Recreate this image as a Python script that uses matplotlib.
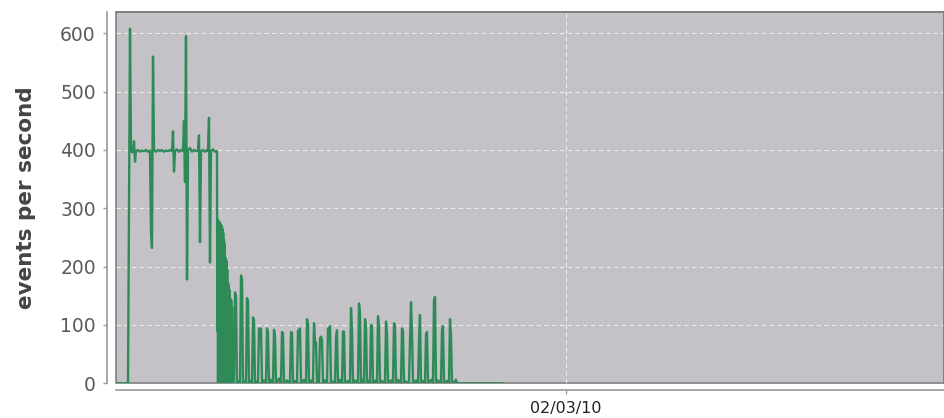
import matplotlib
matplotlib.use("Agg")
import matplotlib.pyplot as plt

# time in minutes relative to midnight 02/03/10; events per second
plateau_minutes = [
    -450, -438, -436, -435, -434, -433, -432, -431, -430, -428, -426, -424, -422, -420, -418,
    -416, -415, -414, -413, -412, -410, -408, -406, -404, -402, -400, -398, -396, -394, -393,
    -392, -391, -389, -387, -385, -383, -382, -381, -380, -379, -378, -376, -374, -372, -370,
    -368, -367, -366, -365, -363, -361, -359, -358, -357, -356, -355, -353, -351, -349,
]
plateau_values = [
    0, 0, 608, 400, 396, 398, 415, 380, 398, 400, 397, 399, 398, 400, 397,
    399, 258, 232, 560, 400, 397, 400, 398, 400, 397, 399, 398, 400, 398, 432,
    363, 398, 401, 397, 400, 398, 450, 345, 595, 178, 400, 403, 397, 400, 398,
    399, 425, 242, 398, 400, 397, 400, 398, 455, 207, 398, 401, 397, 398,
]

dropoff_minutes = [
    -348.7, -348.4,
    -348.0, -347.6, -347.2, -346.8, -346.4, -346.0, -345.6, -345.2, -344.8, -344.4,
    -344.0, -343.6, -343.2, -342.8, -342.4, -342.0, -341.6, -341.2, -340.8, -340.4,
    -340.0, -339.6, -339.2, -338.8, -338.4, -338.0, -337.6, -337.2, -336.8, -336.4,
    -336.0, -335.6, -335.2, -334.8, -334.4, -334.0, -333.6,
]
dropoff_values = [
    90, 281,
    0, 278, 0, 277, 0, 275, 0, 272, 0, 270,
    0, 265, 0, 258, 0, 245, 0, 238, 0, 215,
    0, 210, 0, 195, 0, 172, 0, 168, 0, 160,
    0, 145, 0, 142, 0, 130, 0,
]

tail_minutes = [
    -333, -332, -331, -330, -329, -328, -326, -325, -324, -323, -321, -320, -319, -318, -317,
    -315, -314, -313, -312, -311, -309, -308, -307, -306, -305, -304, -302, -300, -299, -298,
    -297, -295, -293, -292, -291, -290, -287, -285, -284, -283, -282, -279, -276, -275, -274,
    -273, -271, -269, -268, -267, -266, -265, -262, -260, -259, -258, -257, -255, -253, -252,
    -251, -250, -249, -248, -247, -246, -245, -244, -243, -241, -239, -238, -237, -236, -235,
    -233, -231, -230, -229, -228, -226, -224, -223, -222, -221, -218, -216, -215, -214, -213,
    -211, -208, -207, -206, -205, -204, -202, -201, -200, -199, -197, -196, -195, -194, -193,
    -190, -189, -188, -187, -186, -184, -181, -180, -179, -178, -175, -173, -172, -171, -170,
    -168, -165, -164, -163, -162, -160, -157, -156, -155, -154, -153, -150, -148, -147, -146,
    -145, -143, -141, -140, -139, -138, -135, -133, -132, -131, -130, -128, -125, -124, -123,
    -122, -119, -117, -116, -115, -114, -112, -110, -109, -64,
]
tail_values = [
    0, 5, 156, 150, 0, 4, 0, 185, 178, 0, 3, 0, 146, 140, 0,
    4, 0, 113, 108, 0, 3, 0, 94, 92, 94, 0, 5, 0, 94, 86,
    0, 6, 0, 92, 80, 0, 8, 0, 88, 86, 0, 5, 0, 88, 86,
    0, 4, 0, 90, 92, 94, 0, 6, 0, 110, 100, 0, 5, 0, 103,
    72, 70, 0, 4, 0, 77, 80, 75, 0, 5, 0, 94, 92, 98, 0,
    3, 0, 77, 91, 0, 6, 0, 89, 88, 0, 4, 0, 129, 91, 0,
    5, 0, 137, 120, 0, 6, 0, 110, 96, 0, 4, 0, 100, 99, 0,
    5, 0, 115, 96, 0, 4, 0, 106, 83, 0, 5, 0, 103, 98, 0,
    6, 0, 94, 89, 0, 3, 0, 74, 139, 88, 0, 5, 0, 74, 117,
    0, 4, 0, 84, 88, 0, 6, 0, 142, 148, 0, 5, 0, 92, 98,
    0, 4, 0, 110, 80, 0, 2, 6, 0, 0,
]

y_ticks = [0, 100, 200, 300, 400, 500, 600]
x_tick_positions = [0]
x_tick_labels = ["02/03/10"]

minutes = plateau_minutes + dropoff_minutes + tail_minutes
events_per_second = plateau_values + dropoff_values + tail_values

fig = plt.figure(figsize=(9.44, 4.18), dpi=100)
ax = fig.add_axes([116 / 944, 1 - 383.3 / 418, 1 - 116 / 944, (383.3 - 12) / 418])
ax.set_facecolor("#c4c2c6")

ax.plot(minutes, events_per_second, color="#2e8b57", linewidth=1.7)

ax.set_xlim(-450, 378)
ax.set_ylim(0, 636.5)
ax.set_yticks(y_ticks)
ax.set_xticks(x_tick_positions)
ax.set_xticklabels(x_tick_labels)

ax.grid(True, color="#ececec", linestyle=(0, (4, 3)), linewidth=0.8)
ax.set_axisbelow(True)

for s in ["top", "right"]:
    ax.spines[s].set_color("#808080")
    ax.spines[s].set_linewidth(1.2)
ax.spines["left"].set_position(("outward", 6.5))
ax.spines["bottom"].set_position(("outward", 5))
ax.spines["left"].set_color("#9a9a9a")
ax.spines["bottom"].set_color("#9a9a9a")
ax.spines["left"].set_linewidth(1.2)
ax.spines["bottom"].set_linewidth(1.2)

ax.patch.set_edgecolor("#808080")
ax.patch.set_linewidth(1.2)

ax.tick_params(axis="y", length=3, width=1, color="#9a9a9a", labelsize=13.5,
               labelcolor="#5a5a5a", pad=5)
ax.tick_params(axis="x", length=3, width=1, color="#9a9a9a", labelsize=11.5,
               labelcolor="#222222", pad=5)

ax.set_ylabel("events per second", fontsize=15.5, fontweight="bold", color="#444444",
              labelpad=17)

fig.savefig("out.png", dpi=100, facecolor="white")
